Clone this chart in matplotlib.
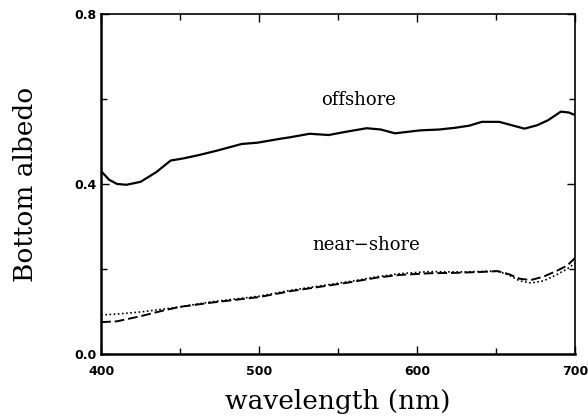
import matplotlib
matplotlib.use("Agg")
import matplotlib.pyplot as plt
from matplotlib.ticker import MultipleLocator

# Data
off_wl = [400, 405, 410, 416, 425, 435, 444, 452, 462, 473, 489, 499, 513, 520, 532,
          544, 554, 568, 577, 586, 602, 614, 624, 633, 641, 652, 660, 668, 676, 683, 691, 696, 700]
off_val = [0.43, 0.41, 0.400, 0.398, 0.405, 0.428, 0.455, 0.460, 0.468, 0.478, 0.494, 0.497,
           0.506, 0.510, 0.518, 0.515, 0.522, 0.531, 0.528, 0.519, 0.526, 0.528, 0.532, 0.537,
           0.546, 0.546, 0.538, 0.530, 0.538, 0.550, 0.570, 0.568, 0.562]

near_wl = [400, 410, 425, 440, 450, 470, 500, 520, 540, 558, 575, 589, 608, 625, 640,
           651, 658, 665, 672, 680, 688, 695, 700]
near_dash = [0.075, 0.077, 0.089, 0.103, 0.111, 0.121, 0.134, 0.148, 0.159, 0.169, 0.180,
             0.186, 0.190, 0.191, 0.193, 0.195, 0.188, 0.177, 0.174, 0.182, 0.195, 0.208, 0.226]
near_dot = [0.092, 0.094, 0.099, 0.106, 0.111, 0.123, 0.136, 0.150, 0.161, 0.171, 0.182,
            0.189, 0.194, 0.193, 0.194, 0.195, 0.186, 0.172, 0.167, 0.172, 0.186, 0.200, 0.214]

labels = {"offshore": (563, 0.598), "near\u2212shore": (568, 0.256)}

fig = plt.figure(figsize=(5.88, 4.19), dpi=100)
ax = fig.add_axes([0.172, 0.155, 0.806, 0.812])

ax.plot(off_wl, off_val, color="black", lw=1.6)
ax.plot(near_wl, near_dash, color="black", lw=1.4, ls=(0, (5, 2)))
ax.plot(near_wl, near_dot, color="black", lw=1.2, ls=(0, (1, 1.5)))

for t, (x, y) in labels.items():
    ax.text(x, y, t, ha="center", va="center", family="DejaVu Serif", fontsize=13)

ax.set_xlim(400, 700)
ax.set_ylim(0.0, 0.8)
ax.xaxis.set_major_locator(MultipleLocator(100))
ax.xaxis.set_minor_locator(MultipleLocator(50))
ax.yaxis.set_major_locator(MultipleLocator(0.4))
ax.yaxis.set_minor_locator(MultipleLocator(0.2))
ax.yaxis.set_major_formatter(plt.FuncFormatter(lambda v, p: f"{v:.1f}"))
ax.tick_params(which="both", direction="in", top=True, right=True, width=1)
ax.tick_params(which="major", length=6)
ax.tick_params(which="minor", length=4)
ax.tick_params(axis="x", pad=8)
for lab in ax.get_xticklabels() + ax.get_yticklabels():
    lab.set_fontweight("bold")
    lab.set_fontsize(9)
for s in ax.spines.values():
    s.set_linewidth(1.2)
ax.spines["left"].set_linewidth(1.8)
ax.spines["bottom"].set_linewidth(1.8)

ax.set_xlabel("wavelength (nm)", family="DejaVu Serif", fontsize=19, labelpad=8)
ax.set_ylabel("Bottom albedo", family="DejaVu Serif", fontsize=19, labelpad=26)

fig.savefig("out.png", dpi=100)
